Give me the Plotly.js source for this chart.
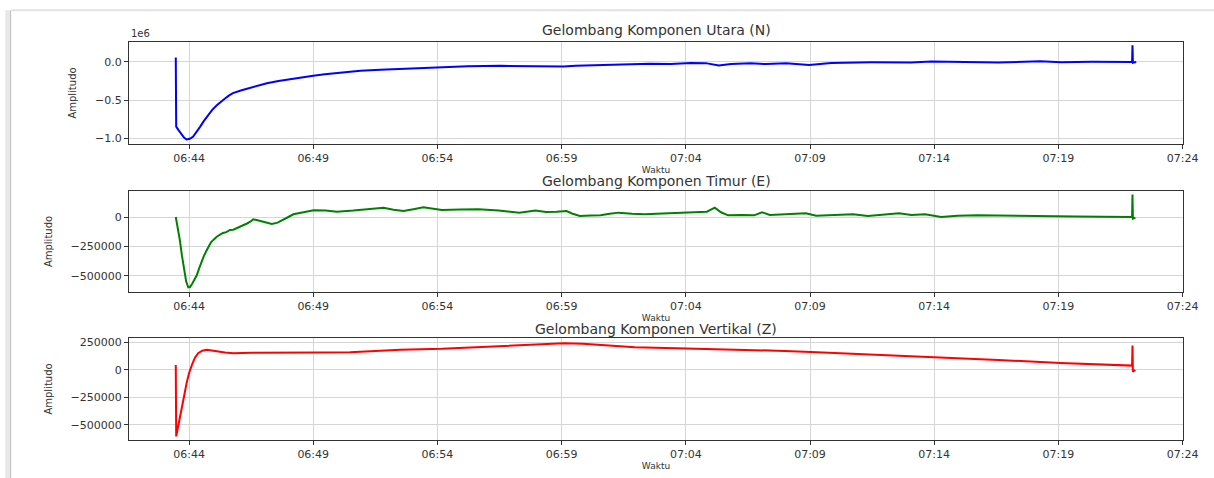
<!DOCTYPE html>
<html>
<head>
<meta charset="utf-8">
<script src="https://cdn.plot.ly/plotly-3.0.1.min.js"></script>
<style>
  html, body { margin: 0; padding: 0; background: #ffffff; }
  #chart { width: 1214px; height: 478px; }
</style>
</head>
<body>
<div id="chart"></div>
<script>
// ---- Data ----
const DAY = '2024-01-01 ';

const timeN = ['06:43:28','06:43:29','06:43:35','06:43:41','06:43:48','06:43:54','06:44:02','06:44:10','06:44:18','06:44:27',
  '06:44:36','06:44:46','06:44:56','06:45:07','06:45:17','06:45:27','06:45:36','06:45:46','06:46:07','06:46:28',
  '06:46:48','06:47:08','06:47:36','06:48:04','06:48:32','06:49:00','06:49:28','06:49:56','06:50:25','06:50:54',
  '06:51:42','06:52:31','06:53:19','06:54:07','06:55:13','06:56:32','06:58:09','06:59:05','06:59:34','07:00:59',
  '07:02:33','07:03:24','07:04:12','07:04:48','07:05:20','07:05:49','07:06:37','07:07:14','07:08:02','07:08:58',
  '07:09:51','07:11:28','07:13:04','07:13:53','07:15:05','07:16:35','07:18:16','07:19:07','07:20:20','07:21:08',
  '07:21:52','07:21:58','07:21:59','07:22:00','07:22:08'];
const valN = [60000,-850000,-900000,-950000,-995000,-1020000,-1010000,-980000,-925000,-850000,
  -775000,-700000,-630000,-570000,-520000,-480000,-442000,-410000,-372000,-340000,
  -308000,-280000,-250000,-225000,-200000,-180000,-162000,-145000,-130000,-115000,
  -102000,-90000,-80000,-72000,-55000,-50000,-52000,-60000,-48000,-40000,
  -22000,-28000,-12000,-15000,-45000,-25000,-18000,-28000,-15000,-38000,
  -12000,-5000,-8000,5000,-3000,-8000,10000,-4000,2000,-3000,
  0,0,220000,-10000,0];

const timeE = ['06:43:28','06:43:33','06:43:38','06:43:43','06:43:48','06:43:53','06:43:58','06:44:02','06:44:07','06:44:13',
  '06:44:19','06:44:24','06:44:29','06:44:36','06:44:43','06:44:53','06:45:00','06:45:07','06:45:15','06:45:22',
  '06:45:30','06:45:39','06:45:47','06:45:55','06:46:03','06:46:11','06:46:20','06:46:28','06:46:35','06:46:43',
  '06:46:52','06:47:05','06:47:20','06:47:34','06:47:48','06:48:00','06:48:12','06:48:36','06:49:01','06:49:30',
  '06:49:57','06:50:37','06:51:18','06:51:50','06:52:14','06:52:38','06:53:02','06:53:26','06:53:50','06:54:11',
  '06:54:55','06:55:39','06:56:28','06:57:18','06:57:57','06:58:22','06:58:48','06:59:12','06:59:25','06:59:44',
  '07:00:10','07:00:34','07:00:56','07:01:18','07:01:50','07:02:21','07:03:04','07:03:48','07:04:20','07:04:51',
  '07:05:10','07:05:25','07:05:42','07:06:15','07:06:45','07:07:04','07:07:23','07:08:05','07:08:50','07:09:15',
  '07:10:00','07:10:44','07:11:20','07:11:58','07:12:35','07:13:05','07:13:38','07:14:17','07:14:56','07:15:45',
  '07:16:35','07:17:38','07:18:41','07:19:43','07:20:46','07:21:49','07:21:58','07:21:59','07:22:00','07:22:06'];
const valE = [0,-90000,-200000,-330000,-450000,-545000,-596000,-595000,-570000,-535000,
  -492000,-440000,-390000,-330000,-280000,-215000,-190000,-167000,-150000,-135000,
  -128000,-110000,-108000,-96000,-85000,-70000,-55000,-40000,-20000,-26000,
  -34000,-40000,-59000,-48000,-25000,0,23000,40000,57000,55000,
  45000,55000,68000,79000,62000,51000,66000,82000,70000,59000,
  64000,65000,55000,37000,54000,42000,45000,50000,30000,8000,
  12000,15000,28000,37000,27000,23000,30000,37000,40000,45000,
  79000,40000,14000,18000,14000,40000,17000,25000,31000,11000,
  18000,23000,8000,20000,31000,18000,23000,0,11000,14000,
  11000,8000,6000,4000,3000,0,0,190000,-15000,-5000];

const timeZ = ['06:43:28','06:43:29','06:43:35','06:43:42','06:43:48','06:43:54','06:44:00','06:44:07','06:44:14','06:44:22',
  '06:44:32','06:44:43','06:44:55','06:45:07','06:45:27','06:45:47','06:46:30','06:47:08','06:49:09','06:50:29',
  '06:52:31','06:54:11','06:56:42','06:59:05','06:59:51','07:01:57','07:04:01','07:05:29','07:07:59','07:09:02',
  '07:11:20','07:13:53','07:16:35','07:19:05','07:20:46','07:21:49','07:21:58','07:21:59','07:22:00','07:22:06'];
const valZ = [46000,-606000,-490000,-367000,-240000,-122000,-30000,46000,110000,153000,
  176000,184000,180000,172000,160000,153000,157000,159000,159000,162000,
  184000,193000,220000,245000,240000,208000,196000,190000,174000,165000,
  144000,119000,92000,64000,52000,43000,40000,223000,-15000,0];

const titles = ['Gelombang Komponen Utara (N)', 'Gelombang Komponen Timur (E)', 'Gelombang Komponen Vertikal (Z)'];
const colors = ['#0000ff', '#008000', '#ff0000'];
const tickValsN = [-1000000, -500000, 0];
const tickTextN = ['\u22121.0', '\u22120.5', '0.0'];
const tickValsE = [-500000, -250000, 0];
const tickTextE = ['\u2212500000', '\u2212250000', '0'];
const tickValsZ = [-500000, -250000, 0, 250000];
const tickTextZ = ['\u2212500000', '\u2212250000', '0', '250000'];

// ---- Figure ----
const toT = arr => arr.map(s => DAY + s);
const FONT = 'DejaVu Sans, Liberation Sans, sans-serif';

const traces = [
  {x: toT(timeN), y: valN, xaxis: 'x', yaxis: 'y', type: 'scatter', mode: 'lines', line: {color: colors[0], width: 2}},
  {x: toT(timeE), y: valE, xaxis: 'x2', yaxis: 'y2', type: 'scatter', mode: 'lines', line: {color: colors[1], width: 2}},
  {x: toT(timeZ), y: valZ, xaxis: 'x3', yaxis: 'y3', type: 'scatter', mode: 'lines', line: {color: colors[2], width: 2}}
];

function xAxis(anchor) {
  return {
    anchor: anchor, domain: [0, 1], type: 'date',
    range: [DAY + '06:41:35', DAY + '07:24:01'],
    tick0: DAY + '06:44:00', dtick: 300000, tickformat: '%H:%M',
    showgrid: true, gridcolor: '#d6d6d6', gridwidth: 1,
    showline: true, linecolor: '#333333', linewidth: 1, mirror: true,
    ticks: 'outside', ticklen: 4, tickcolor: '#333333',
    tickfont: {family: FONT, size: 11, color: '#333333'},
    title: {text: 'Waktu', font: {family: FONT, size: 9, color: '#333333'}, standoff: 2},
    zeroline: false
  };
}
function yAxis(anchor, domain, range, tv, tt, standoff) {
  return {
    anchor: anchor, domain: domain, range: range,
    tickmode: 'array', tickvals: tv, ticktext: tt,
    showgrid: true, gridcolor: '#d6d6d6', gridwidth: 1,
    showline: true, linecolor: '#333333', linewidth: 1, mirror: true,
    ticks: 'outside', ticklen: 4, tickcolor: '#333333',
    tickfont: {family: FONT, size: 11, color: '#333333'},
    title: {text: 'Amplitudo', font: {family: FONT, size: 10, color: '#333333'}, standoff: standoff},
    zeroline: false
  };
}

const layout = {
  width: 1214, height: 478,
  margin: {l: 129, r: 31, t: 42, b: 38},
  paper_bgcolor: '#ffffff', plot_bgcolor: '#ffffff',
  showlegend: false,
  font: {family: FONT, color: '#333333'},
  xaxis: xAxis('y'),
  yaxis: yAxis('x', [0.7437, 1.0], [-1079000, 263000], tickValsN, tickTextN, 16),
  xaxis2: xAxis('y2'),
  yaxis2: yAxis('x2', [0.3719, 0.6256], [-635600, 220300], tickValsE, tickTextE, 16),
  xaxis3: xAxis('y3'),
  yaxis3: yAxis('x3', [0, 0.2563], [-638700, 292000], tickValsZ, tickTextZ, 16),
  annotations: [
    {text: titles[0], xref: 'paper', yref: 'paper', x: 0.5, y: 1.030, xanchor: 'center', yanchor: 'middle', showarrow: false, font: {family: FONT, size: 14, color: '#333333'}},
    {text: titles[1], xref: 'paper', yref: 'paper', x: 0.5, y: 0.6508, xanchor: 'center', yanchor: 'middle', showarrow: false, font: {family: FONT, size: 14, color: '#333333'}},
    {text: titles[2], xref: 'paper', yref: 'paper', x: 0.5, y: 0.2789, xanchor: 'center', yanchor: 'middle', showarrow: false, font: {family: FONT, size: 14, color: '#333333'}},
    {text: '1e6', xref: 'paper', yref: 'paper', x: 0, y: 1.0226, xanchor: 'left', yanchor: 'middle', showarrow: false, font: {family: FONT, size: 10, color: '#333333'}}
  ],
  shapes: [
    {type: 'line', xref: 'paper', yref: 'paper', x0: -0.1115, x1: 1.03, y0: 1.0799, y1: 1.0799, line: {color: '#e2e2e2', width: 2}},
    {type: 'line', xref: 'paper', yref: 'paper', x0: -0.1155, x1: -0.1155, y0: 1.08, y1: -0.1, line: {color: '#e8e8e8', width: 4}},
    {type: 'line', xref: 'paper', yref: 'paper', x0: -0.1125, x1: -0.1125, y0: 1.08, y1: -0.1, line: {color: '#c4c4c4', width: 1.5}}
  ]
};

Plotly.newPlot('chart', traces, layout, {staticPlot: true, displayModeBar: false});
</script>
</body>
</html>
